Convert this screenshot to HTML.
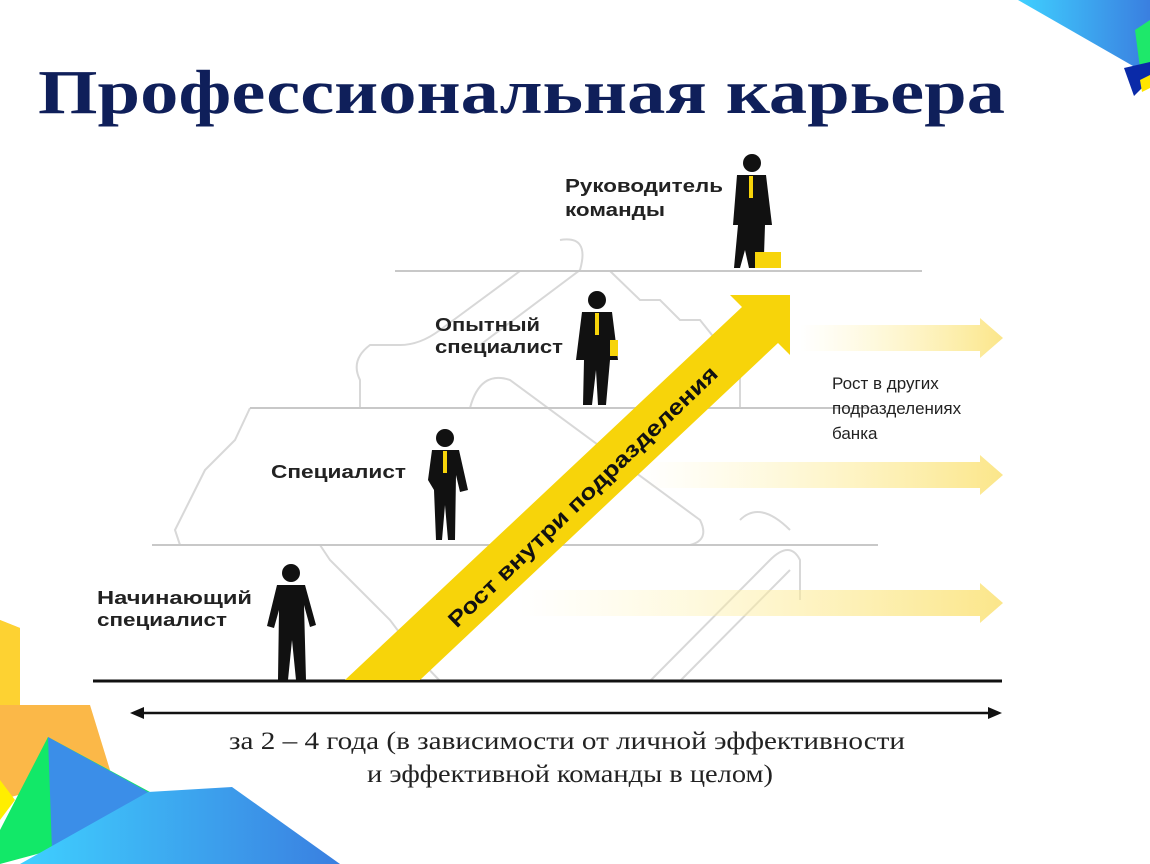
<!DOCTYPE html>
<html><head><meta charset="utf-8"><style>
html,body{margin:0;padding:0;background:#fff;}
svg{display:block}
</style></head><body>
<svg width="1150" height="864" viewBox="0 0 1150 864" xmlns="http://www.w3.org/2000/svg">
<defs>
<linearGradient id="fa" x1="0" x2="1" y1="0" y2="0">
<stop offset="0" stop-color="#fff3b0" stop-opacity="0"/>
<stop offset="1" stop-color="#fbe68a" stop-opacity="1"/>
</linearGradient>
<linearGradient id="bl" x1="0" x2="1" y1="0" y2="0">
<stop offset="0" stop-color="#3fd0ff"/><stop offset="1" stop-color="#3a7fe0"/>
</linearGradient>
</defs>
<polygon points="1018,0 1150,0 1150,70 1140,70" fill="url(#bl)"/>
<polygon points="1135,30 1150,20 1150,70 1140,68" fill="#1ee86a"/>
<polygon points="1124,68 1150,62 1150,80 1134,96" fill="#0a2aa8"/>
<polygon points="1140,80 1150,75 1150,88 1142,92" fill="#ffe600"/>
<polygon points="0,620 20,628 20,705 90,705 110,770 0,800" fill="#fbb848"/>
<polygon points="0,620 20,628 20,705 0,705" fill="#fdd232"/>
<polygon points="0,780 15,800 0,820" fill="#ffee00"/>
<polygon points="48,737 150,792 52,850 0,864 0,830" fill="#12e868"/>
<polygon points="48,737 148,792 52,850" fill="#3b8ee8"/>
<polygon points="20,864 148,792 232,787 340,864" fill="url(#bl)"/>
<text x="38" y="113" font-family="Liberation Serif, serif" font-weight="bold" font-size="62" fill="#0f1f5a" textLength="967" lengthAdjust="spacingAndGlyphs">Профессиональная карьера</text>
<g stroke="#d8d8d8" stroke-width="2" fill="none">
<path d="M520,271 L440,330 Q420,345 400,345 L370,345 Q350,360 360,380 L360,408"/>
<path d="M560,240 Q590,235 580,270 L480,345"/>
<path d="M610,271 L640,300 L660,300 L680,320 L700,320 L720,345 L740,360 L740,408"/>
<path d="M250,408 L235,440 L220,455 L205,470 L190,500 L175,530 L180,545"/>
<path d="M320,545 L330,560 L345,575 L360,590 L375,605 L390,620 L405,640 L420,660 L440,681"/>
<path d="M470,408 Q480,370 510,380 L700,520 Q710,540 690,545"/>
<path d="M650,681 L770,560 Q790,540 800,560 L800,600"/>
<path d="M680,681 L790,570"/>
<path d="M740,520 Q760,500 790,530"/>
</g>
<g stroke="#c8c8c8" stroke-width="2">
<line x1="395" y1="271" x2="922" y2="271"/>
<line x1="250" y1="408" x2="870" y2="408"/>
<line x1="152" y1="545" x2="878" y2="545"/>
</g>
<line x1="93" y1="681" x2="1002" y2="681" stroke="#111" stroke-width="3"/>
<polygon points="800,325 980,325 980,318 1003,338 980,358 980,351 800,351" fill="url(#fa)"/>
<polygon points="640,462 980,462 980,455 1003,475 980,495 980,488 640,488" fill="url(#fa)"/>
<polygon points="520,590 980,590 980,583 1003,603 980,623 980,616 520,616" fill="url(#fa)"/>
<polygon points="345,680 420,680 778,343 790,355 790,295 730,295 742,307" fill="#f7d40a"/>
<text transform="translate(588,502) rotate(-44)" text-anchor="middle" font-family="Liberation Sans, sans-serif" font-weight="bold" font-size="22" fill="#111" textLength="365" lengthAdjust="spacingAndGlyphs">Рост внутри подразделения</text>
<g fill="#111">
<circle cx="752" cy="163" r="9"/>
<path d="M737,175 L766,175 L772,225 L765,225 L764,255 L758,268 L749,268 L745,250 L740,268 L734,268 L738,225 L733,225 Z"/>
<circle cx="597" cy="300" r="9"/>
<path d="M582,312 L612,312 L618,360 L610,360 L606,405 L598,405 L596,370 L592,405 L583,405 L584,360 L576,360 Z"/>
<circle cx="445" cy="438" r="9"/>
<path d="M432,450 L459,450 L468,490 L460,492 L456,475 L455,540 L448,540 L445,505 L442,540 L436,540 L434,490 L428,480 Z"/>
<circle cx="291" cy="573" r="9"/>
<path d="M277,585 L305,585 L316,625 L310,627 L304,605 L306,680 L296,680 L292,640 L288,680 L278,680 L279,610 L274,628 L267,626 Z"/>
</g>
<g fill="#f7d40a">
<rect x="755" y="252" width="26" height="16"/>
<rect x="610" y="340" width="8" height="16"/>
<rect x="749" y="176" width="4" height="22"/>
<rect x="595" y="313" width="4" height="22"/>
<rect x="443" y="451" width="4" height="22"/>
</g>
<g font-family="Liberation Sans, sans-serif" font-weight="bold" font-size="18" fill="#222">
<text x="565" y="192" textLength="158" lengthAdjust="spacingAndGlyphs">Руководитель</text>
<text x="565" y="216" textLength="100" lengthAdjust="spacingAndGlyphs">команды</text>
<text x="435" y="331" textLength="105" lengthAdjust="spacingAndGlyphs">Опытный</text>
<text x="435" y="353" textLength="128" lengthAdjust="spacingAndGlyphs">специалист</text>
<text x="271" y="478" textLength="135" lengthAdjust="spacingAndGlyphs">Специалист</text>
<text x="97" y="604" textLength="155" lengthAdjust="spacingAndGlyphs">Начинающий</text>
<text x="97" y="626" textLength="130" lengthAdjust="spacingAndGlyphs">специалист</text>
</g>
<g font-family="Liberation Sans, sans-serif" font-size="17" fill="#222">
<text x="832" y="389">Рост в других</text>
<text x="832" y="414">подразделениях</text>
<text x="832" y="439">банка</text>
</g>
<line x1="140" y1="713" x2="992" y2="713" stroke="#111" stroke-width="2.5"/>
<polygon points="130,713 144,707 144,719" fill="#111"/>
<polygon points="1002,713 988,707 988,719" fill="#111"/>
<g font-family="Liberation Serif, serif" font-size="25" fill="#222">
<text x="229" y="749" textLength="676" lengthAdjust="spacingAndGlyphs">за 2 – 4 года (в зависимости от личной эффективности</text>
<text x="367" y="782" textLength="406" lengthAdjust="spacingAndGlyphs">и эффективной команды в целом)</text>
</g>
</svg>
</body></html>
